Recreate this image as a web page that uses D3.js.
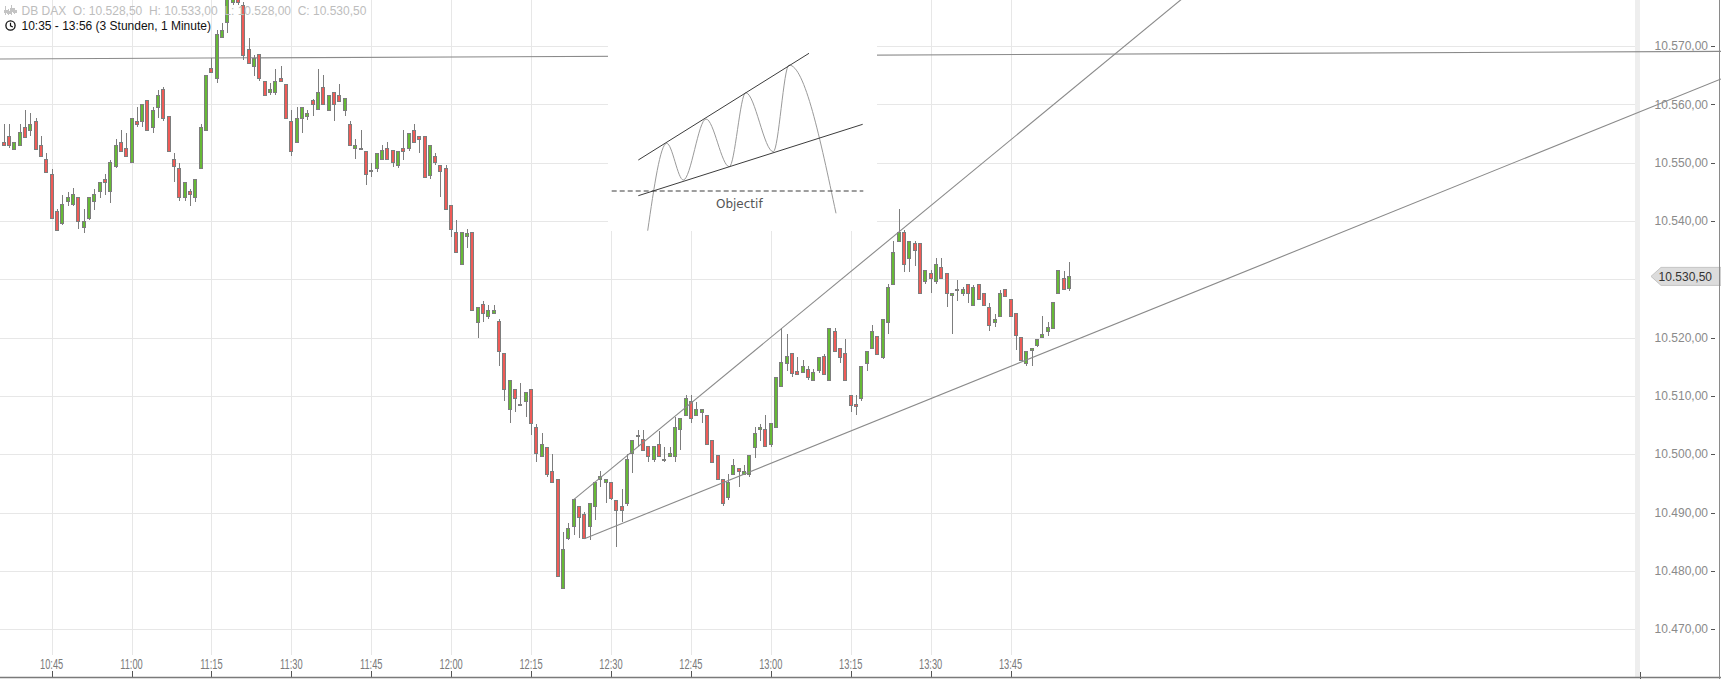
<!DOCTYPE html>
<html><head><meta charset="utf-8">
<script src="https://cdn.jsdelivr.net/npm/d3@7"></script>
<style>
html,body{margin:0;padding:0;background:#fff;overflow:hidden;}
svg{display:block;}
text{font-family:"Liberation Sans",Arial,sans-serif;}
</style></head><body>
<svg id="chart" width="1721" height="679"></svg>
<script>
// ---------------- DATA ----------------
const instrument = "DB DAX";
const rangeLabel = "10:35 - 13:56 (3 Stunden, 1 Minute)";
const startTime = "10:36"; // one-minute bars
const open = [
10553.5,10554.5,10552.3,10552.9,10556.1,10555.5,10557.1,10552.9,10550.5,10547.9,
10541.6,10539.5,10543.4,10542.9,10544.0,10538.9,10540.5,10543.4,10545.0,10547.2,
10545.0,10549.4,10553.4,10552.4,10550.0,10557.1,10557.0,10560.6,10556.0,10559.5,
10562.5,10557.9,10550.5,10549.0,10544.0,10545.1,10544.0,10549.0,10555.6,10566.1,
10564.4,10571.5,10574.0,10577.4,10580.0,10577.0,10569.5,10566.5,10568.5,10564.0,
10562.0,10562.1,10564.5,10563.4,10557.1,10553.4,10557.6,10557.9,10560.6,10559.1,
10562.9,10558.9,10562.1,10561.6,10558.9,10556.6,10552.4,10552.5,10552.0,10548.5,
10549.0,10550.5,10552.4,10552.1,10549.5,10552.4,10552.4,10555.6,10554.5,10554.5,
10547.8,10551.1,10549.6,10549.0,10542.6,10538.1,10532.6,10537.3,10538.1,10522.6,
10525.6,10523.6,10524.1,10522.7,10517.2,10507.7,10511.1,10508.6,10509.0,10511.1,
10504.6,10499.6,10501.2,10497.1,10495.7,10477.0,10485.5,10487.6,10491.1,10489.7,
10487.6,10491.0,10495.6,10495.1,10495.2,10492.1,10491.1,10491.6,10500.1,10503.1,
10502.5,10501.3,10499.1,10501.7,10499.1,10499.6,10499.6,10504.2,10506.6,10509.0,
10506.6,10507.1,10506.6,10502.3,10499.7,10495.7,10492.6,10496.6,10497.6,10496.6,
10496.5,10501.1,10504.2,10504.2,10501.7,10504.6,10511.6,10515.6,10517.2,10514.1,
10514.0,10514.6,10512.6,10514.4,10516.7,10512.6,10521.1,10518.2,10517.2,10510.0,
10508.6,10509.6,10515.6,10518.2,10520.2,10516.6,10522.6,10529.1,10536.5,10538.0,
10533.6,10536.2,10536.2,10529.6,10531.0,10529.6,10532.0,10531.0,10527.2,10528.2,
10527.6,10529.1,10525.5,10529.1,10527.6,10525.2,10522.6,10523.6,10528.2,10526.6,
10524.2,10520.0,10515.6,10517.8,10518.6,10520.0,10521.0,10521.6,10527.6,10530.2,
10528.5];
const high = [
10556.7,10556.7,10553.5,10556.7,10559.0,10558.5,10557.6,10554.5,10551.6,10549.0,
10542.0,10544.5,10545.0,10545.6,10544.0,10542.0,10544.0,10545.5,10546.6,10548.1,
10550.5,10554.0,10555.6,10555.1,10557.6,10559.5,10560.0,10560.6,10559.5,10562.5,
10562.9,10557.9,10551.6,10550.0,10546.6,10545.5,10547.1,10556.6,10564.9,10567.9,
10572.7,10574.0,10580.0,10581.0,10581.0,10577.5,10571.4,10568.5,10568.5,10564.0,
10563.6,10566.0,10566.6,10563.4,10559.0,10559.5,10559.5,10559.0,10561.0,10566.0,
10565.0,10561.6,10562.1,10563.5,10561.0,10557.2,10554.1,10555.6,10552.0,10550.0,
10551.6,10553.0,10553.6,10552.1,10552.0,10555.6,10555.0,10556.6,10554.5,10554.5,
10552.9,10551.7,10549.6,10549.6,10542.6,10540.2,10538.1,10538.6,10538.1,10525.2,
10526.2,10525.6,10525.6,10523.2,10517.2,10512.7,10511.1,10512.2,10510.6,10511.1,
10505.2,10503.6,10501.2,10500.1,10495.7,10486.7,10488.2,10492.2,10491.1,10490.1,
10491.6,10495.1,10497.1,10495.7,10495.2,10492.1,10494.1,10500.1,10502.3,10504.2,
10504.2,10501.3,10501.3,10504.0,10501.3,10501.3,10506.3,10506.2,10510.2,10510.2,
10509.0,10507.7,10506.6,10502.5,10499.7,10495.7,10496.6,10499.1,10497.6,10498.1,
10499.7,10504.7,10505.2,10506.7,10505.2,10513.2,10521.6,10520.6,10517.2,10516.7,
10516.2,10515.1,10514.6,10516.6,10517.2,10521.6,10521.6,10518.2,10519.7,10510.0,
10510.2,10515.1,10517.7,10522.2,10520.2,10523.1,10529.2,10536.6,10542.0,10538.5,
10536.5,10536.5,10536.2,10531.5,10531.6,10533.6,10533.6,10531.0,10527.6,10529.8,
10528.7,10529.1,10529.1,10529.1,10527.6,10526.0,10524.1,10528.2,10528.2,10526.6,
10524.2,10520.0,10517.6,10518.2,10519.7,10523.7,10522.7,10526.0,10531.5,10531.5,
10533.0];
const low = [
10552.9,10552.6,10552.1,10552.9,10554.4,10554.6,10552.1,10551.0,10548.4,10540.5,
10538.4,10539.3,10542.5,10542.5,10538.6,10538.0,10540.1,10541.9,10543.9,10544.5,
10543.1,10549.1,10552.0,10551.0,10550.0,10556.2,10556.2,10555.5,10555.1,10557.6,
10557.2,10552.0,10546.7,10543.4,10543.5,10542.6,10543.2,10549.0,10555.6,10565.5,
10563.6,10571.5,10572.3,10577.0,10577.0,10567.6,10567.1,10564.9,10564.0,10561.6,
10561.6,10561.6,10563.9,10557.6,10551.1,10553.4,10555.1,10557.3,10558.0,10559.1,
10560.0,10558.9,10557.2,10560.5,10558.0,10552.9,10550.7,10552.2,10546.1,10547.6,
10548.4,10550.5,10550.5,10549.3,10549.1,10550.5,10552.0,10553.4,10551.7,10547.4,
10547.2,10549.6,10544.2,10542.0,10537.2,10534.6,10532.6,10535.3,10524.6,10519.9,
10522.7,10523.2,10524.1,10515.1,10509.2,10505.3,10507.3,10508.4,10506.3,10503.3,
10498.7,10499.6,10496.1,10495.2,10479.0,10477.0,10485.2,10486.1,10485.7,10485.5,
10485.3,10488.7,10494.3,10491.7,10492.1,10484.1,10488.3,10491.2,10496.7,10501.3,
10500.6,10498.7,10498.7,10499.6,10498.7,10499.6,10498.7,10500.8,10506.6,10505.3,
10506.6,10505.3,10501.7,10498.6,10495.7,10491.2,10492.2,10496.6,10494.3,10496.6,
10496.1,10499.3,10502.3,10501.3,10501.3,10504.6,10511.6,10514.2,10513.3,10513.7,
10514.0,10512.8,10512.6,10514.0,10513.7,10512.6,10517.6,10515.7,10512.6,10507.3,
10506.7,10509.2,10514.2,10518.2,10517.1,10516.3,10520.7,10529.1,10536.5,10531.2,
10531.2,10532.2,10527.6,10529.2,10527.7,10529.2,10530.2,10525.3,10520.6,10526.2,
10527.1,10525.9,10525.5,10526.6,10525.5,10521.2,10521.8,10523.6,10527.0,10523.6,
10517.8,10516.0,10515.2,10515.2,10518.4,10520.0,10520.2,10521.6,10527.6,10528.2,
10528.0];
const close = [
10552.9,10552.9,10553.5,10555.1,10554.4,10556.6,10552.3,10551.0,10548.4,10540.5,
10538.4,10542.9,10544.0,10544.5,10540.0,10540.0,10544.0,10544.5,10546.6,10546.6,
10550.0,10552.9,10552.0,10551.0,10557.6,10556.5,10560.0,10555.5,10559.0,10561.6,
10557.6,10552.0,10549.4,10544.1,10546.6,10544.5,10547.1,10556.1,10564.9,10565.5,
10572.0,10572.6,10579.0,10580.0,10577.4,10568.4,10567.1,10567.9,10564.4,10561.6,
10562.6,10564.0,10563.9,10557.6,10552.0,10557.6,10559.5,10558.5,10560.0,10562.1,
10560.0,10561.6,10560.0,10560.5,10561.0,10552.9,10553.0,10552.4,10547.9,10548.6,
10551.6,10552.1,10550.5,10550.0,10552.0,10552.0,10555.0,10553.4,10554.0,10547.4,
10552.9,10550.0,10548.5,10542.0,10538.6,10534.6,10538.1,10537.9,10524.6,10525.2,
10524.2,10524.7,10524.7,10517.6,10511.1,10512.7,10509.6,10508.6,10510.6,10505.2,
10500.1,10501.7,10496.5,10495.2,10479.0,10483.6,10487.2,10492.2,10489.2,10485.5,
10491.6,10495.1,10496.2,10495.7,10492.4,10490.4,10490.4,10499.1,10502.3,10503.2,
10500.6,10499.6,10501.3,10499.6,10499.1,10500.1,10504.6,10506.2,10509.6,10506.2,
10507.7,10507.7,10501.7,10498.6,10495.7,10491.6,10495.1,10498.1,10497.0,10497.1,
10499.7,10503.6,10504.6,10501.3,10505.2,10513.2,10515.7,10516.7,10513.8,10513.7,
10515.0,10513.2,10514.0,10516.6,10513.7,10521.6,10517.6,10516.6,10512.6,10508.4,
10508.2,10515.1,10517.7,10521.1,10517.1,10523.1,10528.6,10534.6,10538.0,10532.6,
10536.5,10535.0,10527.6,10531.5,10530.2,10532.6,10530.2,10527.6,10527.6,10528.2,
10528.2,10527.6,10528.6,10526.6,10525.5,10522.1,10523.1,10527.6,10527.0,10523.6,
10520.4,10516.0,10517.6,10518.2,10519.7,10520.6,10521.7,10526.0,10531.5,10528.2,
10530.5];
const priceTicks = [10470,10480,10490,10500,10510,10520,10530,10540,10550,10560,10570];
const hiddenPriceLabels = [10530]; // covered by the last-price marker
const timeTicks = ["10:45","11:00","11:15","11:30","11:45","12:00","12:15","12:30","12:45","13:00","13:15","13:30","13:45"];
// drawn lines (time, price anchor points)
const resistanceLine = [{t:"10:36", p:10567.8}, {t:"13:56", p:10568.6}];
const upperTrendLine = [{t:"12:23", p:10492.2}, {t:"13:07", p:10525.3}];
const lowerTrendLine = [{t:"12:25", p:10485.5}, {t:"13:54", p:10518.4}];
// inset illustration (rising wedge), in its own 270 x 231 drawing units
const insetUpper = [[30.3,160],[201,53.3]];
const insetLower = [[30.3,195.7],[254.7,124.3]];
const insetTarget = [[3.7,191],[255.3,191]];
const insetWave = [[39.7,230.7],[58.7,143.3],[75.3,180],[98,119],[121.3,166.7],[137.7,92.7],[165.3,151.7],[181,65],[228,213.3]];
const insetLabel = {text:"Objectif", x:131.3, y:203.3};

// ---------------- SCALES ----------------
const W = 1721, H = 679;
const svg = d3.select("#chart");
const tp = s => { const [h,m] = s.split(":").map(Number); return new Date(2016,0,15,h,m,0); };
const t0 = tp(startTime);
const times = open.map((d,i) => new Date(t0.getTime() + i*60000));
const candles = times.map((t,i) => ({t, o:open[i], h:high[i], l:low[i], c:close[i]}));

const x = d3.scaleTime().domain([tp("10:45"), tp("13:45")]).range([51.6, 1010.5]);
const y = d3.scaleLinear().domain([10470, 10570]).range([629.1, 46.1]);
const plotRight = 1635, plotBottom = 655;
const de = d3.formatLocale({decimal:",", thousands:".", grouping:[3], currency:["",""]});
const fmt = de.format(",.2f");

svg.append("rect").attr("width",W).attr("height",H).attr("fill","#fff");

// gridlines
const grid = svg.append("g").attr("shape-rendering","crispEdges");
grid.selectAll("line.h").data(priceTicks).join("line")
  .attr("x1",0).attr("x2",plotRight)
  .attr("y1",d=>Math.round(y(d))+0.5).attr("y2",d=>Math.round(y(d))+0.5)
  .attr("stroke","#e7e7e7");
grid.selectAll("line.v").data(timeTicks).join("line")
  .attr("x1",d=>Math.round(x(tp(d)))+0.5).attr("x2",d=>Math.round(x(tp(d)))+0.5)
  .attr("y1",0).attr("y2",plotBottom)
  .attr("stroke","#e7e7e7");

// right scale band
svg.append("rect").attr("x",plotRight).attr("y",0).attr("width",5).attr("height",H-2).attr("fill","#eeeeee");

// helper: extended line in pixel space
function extLine(pts, x0, x1){
  const a = [x(tp(pts[0].t)), y(pts[0].p)], b = [x(tp(pts[1].t)), y(pts[1].p)];
  const k = (b[1]-a[1])/(b[0]-a[0]);
  const xs = x0 === null ? a[0] : x0;
  return [[xs, a[1] + k*(xs-a[0])], [x1, a[1] + k*(x1-a[0])]];
}
const lineGen = d3.line();

// resistance line (full width, hidden by inset box in the middle)
svg.append("path").attr("d", lineGen(extLine(resistanceLine, 0, W)))
  .attr("stroke","#8a8a8a").attr("stroke-width",1.1).attr("fill","none");

// inset illustration
const inset = {x0:608, y0:0, x1:877, y1:231};
svg.append("rect").attr("x",inset.x0).attr("y",inset.y0).attr("width",inset.x1-inset.x0).attr("height",inset.y1-inset.y0).attr("fill","#fff");
const ix = d3.scaleLinear().domain([0,269]).range([inset.x0, inset.x1]);
const iy = d3.scaleLinear().domain([0,231]).range([inset.y0, inset.y1]);
const il = d3.line().x(d=>ix(d[0])).y(d=>iy(d[1]));
const gi = svg.append("g");
gi.append("path").attr("d", il.curve(d3.curveMonotoneX)(insetWave)).attr("fill","none").attr("stroke","#9a9a9a").attr("stroke-width",1);
il.curve(d3.curveLinear);
gi.append("path").attr("d", il(insetUpper)).attr("stroke","#3c3c3c").attr("stroke-width",1).attr("fill","none");
gi.append("path").attr("d", il(insetLower)).attr("stroke","#3c3c3c").attr("stroke-width",1).attr("fill","none");
gi.append("path").attr("d", il(insetTarget)).attr("stroke","#3c3c3c").attr("stroke-width",1).attr("stroke-dasharray","5,3").attr("fill","none");
gi.append("text").attr("x",ix(insetLabel.x)).attr("y",iy(insetLabel.y)).attr("dy","0.35em")
  .attr("text-anchor","middle").style("font-family","'DejaVu Sans',sans-serif").style("font-size","12px")
  .attr("fill","#555").text(insetLabel.text);

// candles
const defs = svg.append("defs");
defs.append("clipPath").attr("id","plotclip").append("rect").attr("x",0).attr("y",0).attr("width",plotRight).attr("height",plotBottom);
const gc = svg.append("g").attr("clip-path","url(#plotclip)").attr("shape-rendering","crispEdges");
const cg = gc.selectAll("g").data(candles).join("g");
cg.append("line")
  .attr("x1",d=>Math.round(x(d.t))+0.5).attr("x2",d=>Math.round(x(d.t))+0.5)
  .attr("y1",d=>y(d.h)).attr("y2",d=>y(d.l))
  .attr("stroke","#7d7d7d").attr("stroke-width",1);
cg.append("rect")
  .attr("x",d=>Math.round(x(d.t))-1.5)
  .attr("width",3)
  .attr("y",d=>y(Math.max(d.o,d.c)))
  .attr("height",d=>Math.max(1, y(Math.min(d.o,d.c)) - y(Math.max(d.o,d.c))))
  .attr("fill",d=>d.c>=d.o ? "#66b936" : "#ef5b57")
  .attr("stroke","#7d7d7d").attr("stroke-width",1);

// trend lines
svg.append("path").attr("d", lineGen(extLine(upperTrendLine, null, W)))
  .attr("stroke","#8a8a8a").attr("stroke-width",1.1).attr("fill","none");
svg.append("path").attr("d", lineGen(extLine(lowerTrendLine, null, W)))
  .attr("stroke","#8a8a8a").attr("stroke-width",1.1).attr("fill","none");

// right axis labels
const labelTicks = priceTicks.filter(d => !hiddenPriceLabels.includes(d));
const ga = svg.append("g");
ga.selectAll("text.yl").data(labelTicks).join("text")
  .attr("x",1708).attr("y",d=>y(d)).attr("dy","0.35em").attr("text-anchor","end")
  .style("font-size","12px").attr("fill","#8a8a8a").text(d=>fmt(d));
ga.selectAll("line.yt").data(labelTicks).join("line")
  .attr("x1",1711).attr("x2",1715).attr("y1",d=>Math.round(y(d))+0.5).attr("y2",d=>Math.round(y(d))+0.5)
  .attr("stroke","#555").attr("shape-rendering","crispEdges");

// last price marker
const last = candles[candles.length-1];
const ly = y(last.c);
svg.append("path")
  .attr("d", `M1651,${ly} L1661,${ly-9} L1721,${ly-9} L1721,${ly+9} L1661,${ly+9} Z`)
  .attr("fill","#dcdcdc").attr("stroke","#c4c4c4");
svg.append("text").attr("x",1712).attr("y",ly).attr("dy","0.36em").attr("text-anchor","end")
  .style("font-size","12px").attr("fill","#333").text(fmt(last.c));

// bottom axis
const gx = svg.append("g");
gx.selectAll("text").data(timeTicks).join("text")
  .attr("transform",d=>`translate(${x(tp(d))},669) scale(0.62,1)`)
  .attr("text-anchor","middle").style("font-size","15px").attr("fill","#7a7a7a").text(d=>d);
gx.selectAll("line").data(timeTicks).join("line")
  .attr("x1",d=>Math.round(x(tp(d)))+0.5).attr("x2",d=>Math.round(x(tp(d)))+0.5)
  .attr("y1",671).attr("y2",678).attr("stroke","#555").attr("shape-rendering","crispEdges");
svg.append("line").attr("x1",1640.5).attr("x2",1640.5).attr("y1",672).attr("y2",679).attr("stroke","#555");
svg.append("line").attr("x1",0).attr("x2",W).attr("y1",677.5).attr("y2",677.5).attr("stroke","#7a7a7a").attr("stroke-width",1.5);
svg.append("line").attr("x1",1719.5).attr("x2",1719.5).attr("y1",0).attr("y2",H).attr("stroke","#8a8a8a");

// header
const hdr = svg.append("g");
const hText = `${instrument}  O: ${fmt(last.o)}  H: ${fmt(last.h)}  L: ${fmt(last.l)}  C: ${fmt(last.c)}`;
hdr.append("text").attr("x",21.5).attr("y",14.5).style("font-size","12px").style("white-space","pre")
  .attr("fill","#bdbdbd").text(hText);
hdr.append("text").attr("x",21.5).attr("y",30).style("font-size","12px").attr("fill","#111").text(rangeLabel);
// small instrument icon
const ic = hdr.append("g").attr("stroke","#c4c4c4").attr("stroke-width",1).attr("shape-rendering","crispEdges");
[[5.5,6,15],[8.5,9,15],[11.5,5,15],[14.5,8,14]].forEach(a=>{
  ic.append("line").attr("x1",a[0]).attr("x2",a[0]).attr("y1",a[1]).attr("y2",a[2]);
});
[[4,10,3,2],[7,11,3,2],[10,8,3,3],[13,10,3,2]].forEach(a=>{
  ic.append("rect").attr("x",a[0]).attr("y",a[1]).attr("width",a[2]).attr("height",a[3]).attr("fill","#c4c4c4");
});
// clock icon
hdr.append("circle").attr("cx",10.5).attr("cy",25.5).attr("r",4.6).attr("fill","none").attr("stroke","#111").attr("stroke-width",1.3);
hdr.append("path").attr("d","M10.5,22.8 L10.5,25.8 L12.8,27").attr("fill","none").attr("stroke","#111").attr("stroke-width",1.2);
</script>
</body></html>
